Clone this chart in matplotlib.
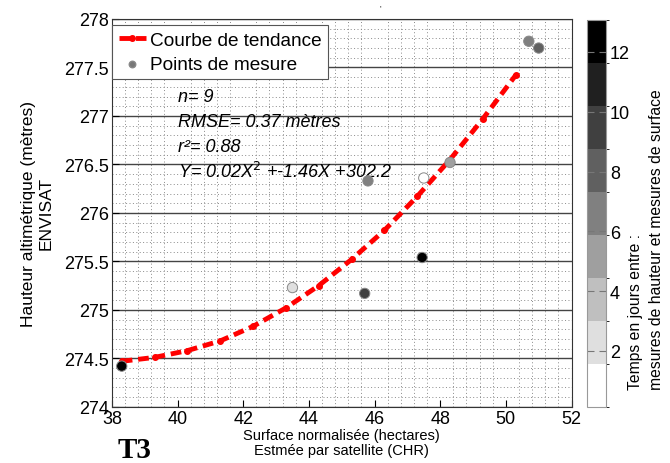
import matplotlib
matplotlib.use("Agg")
import matplotlib.pyplot as plt
from matplotlib.colors import ListedColormap, BoundaryNorm
from matplotlib.ticker import MultipleLocator
import numpy as np

plt.rcParams["font.family"] = ["Liberation Sans", "DejaVu Sans"]

# points de mesure
surface = [38.3, 43.5, 45.7, 45.8, 47.45, 47.5, 48.3, 50.7, 51.0]
hauteur = [274.42, 275.23, 275.17, 276.33, 275.54, 276.36, 276.52, 277.77, 277.70]
jours = [12.8, 2.8, 10.0, 6.5, 12.6, 0.9, 4.5, 6.8, 8.0]

# courbe de tendance
tend_x = [38.3, 39.3, 40.3, 41.3, 42.3, 43.3, 44.3, 45.3, 46.3, 47.3, 48.3, 49.3, 50.3]
tend_y = [274.47, 274.51, 274.58, 274.68, 274.83, 275.02, 275.25, 275.52,
          275.82, 276.17, 276.55, 276.97, 277.42]

stats = ["n= 9", "RMSE= 0.37 mètres", "r²= 0.88", r"Y= 0.02X$^{2}$ +-1.46X +302.2"]

vmin, vmax, nlev = 0.13, 13.07, 9
cmap = ListedColormap([str(g) for g in np.linspace(1, 0, nlev)])
norm = BoundaryNorm(np.linspace(vmin, vmax, nlev + 1), nlev)

fig = plt.figure(figsize=(6.7, 4.64), dpi=100)
ax = fig.add_axes([0.167, 0.121, 0.686, 0.836])
cax = fig.add_axes([0.876, 0.121, 0.028, 0.834])

ax.set_xlim(38, 52)
ax.set_ylim(274, 278)
ax.xaxis.set_major_locator(MultipleLocator(2))
ax.xaxis.set_minor_locator(MultipleLocator(0.4))
ax.yaxis.set_major_locator(MultipleLocator(0.5))
ax.yaxis.set_minor_locator(MultipleLocator(0.1))
ax.grid(which="minor", linestyle=(0, (1, 2.5)), color="#8a8a8a", linewidth=0.7)
ax.yaxis.grid(which="major", linestyle="-", color="#444444", linewidth=1.0)
ax.set_axisbelow(True)
ax.tick_params(which="both", direction="in", top=False, right=False, labelsize=13)
ax.tick_params(which="minor", length=0)
ax.tick_params(which="major", length=5, pad=2)
for sp in ax.spines.values():
    sp.set_color("#333333")
ax.set_yticklabels([f"{v:g}" for v in ax.get_yticks()])

line, = ax.plot(tend_x, tend_y, color="red", linestyle="--", linewidth=3.5,
                marker="o", markersize=4, dashes=(2.2, 1.2), zorder=3,
                label="Courbe de tendance")
sc = ax.scatter(surface, hauteur, c=jours, cmap=cmap, norm=norm, s=55,
                edgecolors="#888888", linewidths=0.7, zorder=4)
pts = ax.scatter([], [], s=22, color="#777777", edgecolors="#888888",
                 label="Points de mesure")

leg = ax.legend(handles=[line, pts], loc="upper left", bbox_to_anchor=(0.0, 0.985),
                fontsize=13.7, frameon=True, fancybox=False, framealpha=1,
                edgecolor="#555555", borderaxespad=0.0, handlelength=1.45,
                handletextpad=0.2, borderpad=0.35, labelspacing=0.35)
leg.get_frame().set_linewidth(0.8)

for i, s in enumerate(stats):
    ax.text(0.143, 0.80 - i * 0.064, s, transform=ax.transAxes, fontsize=13,
            style="italic", va="center", ha="left")

ax.set_xlabel("Surface normalisée (hectares)\nEstmée par satellite (CHR)",
              fontsize=10.5, labelpad=0, linespacing=1.1)
ax.set_ylabel("Hauteur altimétrique (mètres)\nENVISAT", fontsize=12.5,
              labelpad=8, linespacing=1.15)
ax.xaxis.set_label_coords(0.5, -0.055)

cb = fig.colorbar(sc, cax=cax, ticks=[2, 4, 6, 8, 10, 12])
cb.outline.set_edgecolor("#999999")
cax.tick_params(direction="in", length=5, color="#777777", labelsize=13,
                left=True, right=True, pad=3)
cb.set_label("Temps en jours entre :\nmesures de hauteur et mesures de surface",
             fontsize=11.3, linespacing=1.45)
cb.ax.yaxis.label.set_multialignment("left")
cb.ax.yaxis.set_label_coords(2.2, 0.435)

fig.text(0.2, 0.03, "T3", fontsize=21, fontweight="bold",
         family="Liberation Serif", ha="center", va="center")
fig.text(0.567, 0.98, "'", fontsize=6, ha="center", va="center")

fig.savefig("out.png", dpi=100)
